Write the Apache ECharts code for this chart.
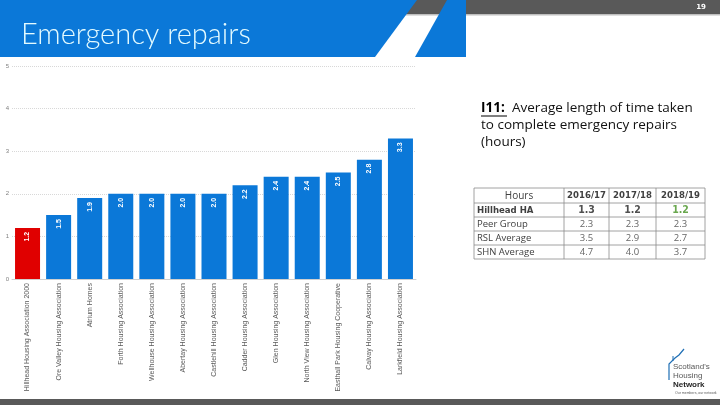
<!DOCTYPE html>
<html><head><meta charset="utf-8">
<script src="https://cdn.jsdelivr.net/npm/echarts@6/dist/echarts.min.js"></script>
<style>html,body{margin:0;padding:0;background:#fff}#c{width:720px;height:405px}</style>
</head><body><div id="c"></div>
<script>
const categories = ["Hillhead Housing Association 2000","Ore Valley Housing Association","Atrium Homes","Forth Housing Association","Wellhouse Housing Association","Abertay Housing Association","Castlehill Housing Association","Cadder Housing Association","Glen Housing Association","North View Housing Association","Easthall Park Housing Cooperative","Calvay Housing Association","Larkfield Housing Association"];
const values = [1.2,1.5,1.9,2.0,2.0,2.0,2.0,2.2,2.4,2.4,2.5,2.8,3.3];
const highlightIndex = 0;
const yTicks = [0,1,2,3,4,5];
const tableHeader = ["Hours","2016/17","2017/18","2018/19"];
const tableRowNames = ["Hillhead HA","Peer Group","RSL Average","SHN Average"];
const tableValues = [["1.3","1.2","1.2"],["2.3","2.3","2.3"],["3.5","2.9","2.7"],["4.7","4.0","3.7"]];
const pageTitle = "Emergency repairs";
const indicatorCode = "I11:";
const indicatorText = ["Average length of time taken","to complete emergency repairs","(hours)"];

const chart = echarts.init(document.getElementById('c'));
const BLUE = '#0b78d8', RED = '#e00000';

const colX = [474,564,609,656,705];
const rowY = [188,203,217,231,245,259];
const tbl = [];
rowY.forEach(y => tbl.push({type:'line',shape:{x1:colX[0],y1:y,x2:colX[4],y2:y},style:{stroke:'#8a8a8a',lineWidth:0.8}}));
colX.forEach(x => tbl.push({type:'line',shape:{x1:x,y1:rowY[0],x2:x,y2:rowY[5]},style:{stroke:'#8a8a8a',lineWidth:0.8}}));
tableHeader.forEach((h,i) => {
  tbl.push({type:'text',x:(colX[i]+colX[i+1])/2,y:(rowY[0]+rowY[1])/2+0.5,style:{text:h,font:(i?'bold 9.5px "DejaVu Sans Condensed"':'10px "Open Sans"'),fill:'#404040',align:'center',verticalAlign:'middle'}});
});
tableRowNames.forEach((n,r) => {
  const yc = (rowY[r+1]+rowY[r+2])/2+0.5;
  tbl.push({type:'text',x:477,y:yc,style:{text:n,font:(r===0?'bold 9.5px "DejaVu Sans Condensed"':'9.5px "Open Sans"'),fill:'#404040',align:'left',verticalAlign:'middle'}});
  tableValues[r].forEach((v,c) => {
    tbl.push({type:'text',x:(colX[c+1]+colX[c+2])/2,y:yc,style:{text:v,font:(r===0?'bold 10.5px "DejaVu Sans Condensed"':'9.5px "Open Sans"'),fill:(r===0&&c===2)?'#6aa84f':(r===0?'#505050':'#666666'),align:'center',verticalAlign:'middle'}});
  });
});

chart.setOption({
  animation:false,
  backgroundColor:'#ffffff',
  grid:{left:12,right:304,top:66,bottom:126,containLabel:false},
  xAxis:{type:'category',data:categories,
    axisLine:{lineStyle:{color:'#d0d0d0'}},axisTick:{show:false},
    axisLabel:{rotate:90,interval:0,fontSize:7,color:'#595959',fontFamily:'Liberation Sans',margin:4}},
  yAxis:{type:'value',min:0,max:5,interval:1,
    axisLine:{show:false},axisTick:{show:false},
    axisLabel:{fontSize:6,color:'#7f7f7f',margin:3,fontFamily:'Liberation Sans',formatter:v=>yTicks.includes(v)?String(v):''},
    splitLine:{lineStyle:{color:'#cfcfcf',type:[1,1],width:0.8}}},
  series:[{type:'bar',barWidth:25,
    data:values.map((v,i)=>({value:v,itemStyle:{color:i===highlightIndex?RED:BLUE}})),
    label:{show:true,position:'insideTop',rotate:90,align:'right',verticalAlign:'middle',distance:4,
      formatter:p=>p.value.toFixed(1),color:'#fff',fontSize:7,fontWeight:'bold',fontFamily:'Liberation Sans'}}],
  graphic:[
    {type:'rect',shape:{x:0,y:0,width:720,height:14},style:{fill:'#595959'}},
    {type:'rect',shape:{x:0,y:14,width:720,height:1.5},style:{fill:'#bfbfbf'}},
    {type:'polygon',shape:{points:[[0,0],[417,0],[375,57],[0,57]]},style:{fill:BLUE}},
    {type:'polygon',shape:{points:[[447,0],[466,0],[466,57],[415,57]]},style:{fill:BLUE}},
    {type:'text',x:701,y:7,style:{text:'19',font:'bold 7px "DejaVu Sans"',fill:'#ffffff',align:'center',verticalAlign:'middle'}},
    {type:'text',x:21,y:35,style:{text:pageTitle,font:'300 29px Lato',fill:'#e4fbff',align:'left',verticalAlign:'middle'}},
    {type:'text',x:481,y:108,style:{text:indicatorCode,font:'bold 13.5px "Open Sans"',fill:'#000',align:'left',verticalAlign:'middle'}},
    {type:'line',shape:{x1:481,y1:116,x2:507,y2:116},style:{stroke:'#000',lineWidth:1}},
    {type:'text',x:512,y:108,style:{text:indicatorText[0],font:'13.5px "Open Sans"',fill:'#111',align:'left',verticalAlign:'middle'}},
    {type:'text',x:481,y:125,style:{text:indicatorText[1],font:'13.5px "Open Sans"',fill:'#111',align:'left',verticalAlign:'middle'}},
    {type:'text',x:481,y:142,style:{text:indicatorText[2],font:'13.5px "Open Sans"',fill:'#111',align:'left',verticalAlign:'middle'}},
    ...tbl,
    {type:'polyline',shape:{points:[[669,380],[669,364],[675,358],[679,355],[684,349]]},style:{stroke:'#1f6fb5',lineWidth:1.2,fill:null}},
    {type:'polyline',shape:{points:[[673,361],[673,356]]},style:{stroke:'#1f6fb5',lineWidth:1}},
    {type:'text',x:673,y:367,style:{text:"Scotland's",font:'8px "Liberation Sans"',fill:'#595959',align:'left',verticalAlign:'middle'}},
    {type:'text',x:673,y:376,style:{text:"Housing",font:'8px "Liberation Sans"',fill:'#595959',align:'left',verticalAlign:'middle'}},
    {type:'text',x:673,y:385,style:{text:"Network",font:'bold 8px "Liberation Sans"',fill:'#262626',align:'left',verticalAlign:'middle'}},
    {type:'text',x:675,y:393,style:{text:"Our members, our network",font:'3.5px "Liberation Sans"',fill:'#595959',align:'left',verticalAlign:'middle'}},
    {type:'rect',shape:{x:0,y:399,width:720,height:6},style:{fill:'#595959'}}
  ]
});
</script></body></html>
